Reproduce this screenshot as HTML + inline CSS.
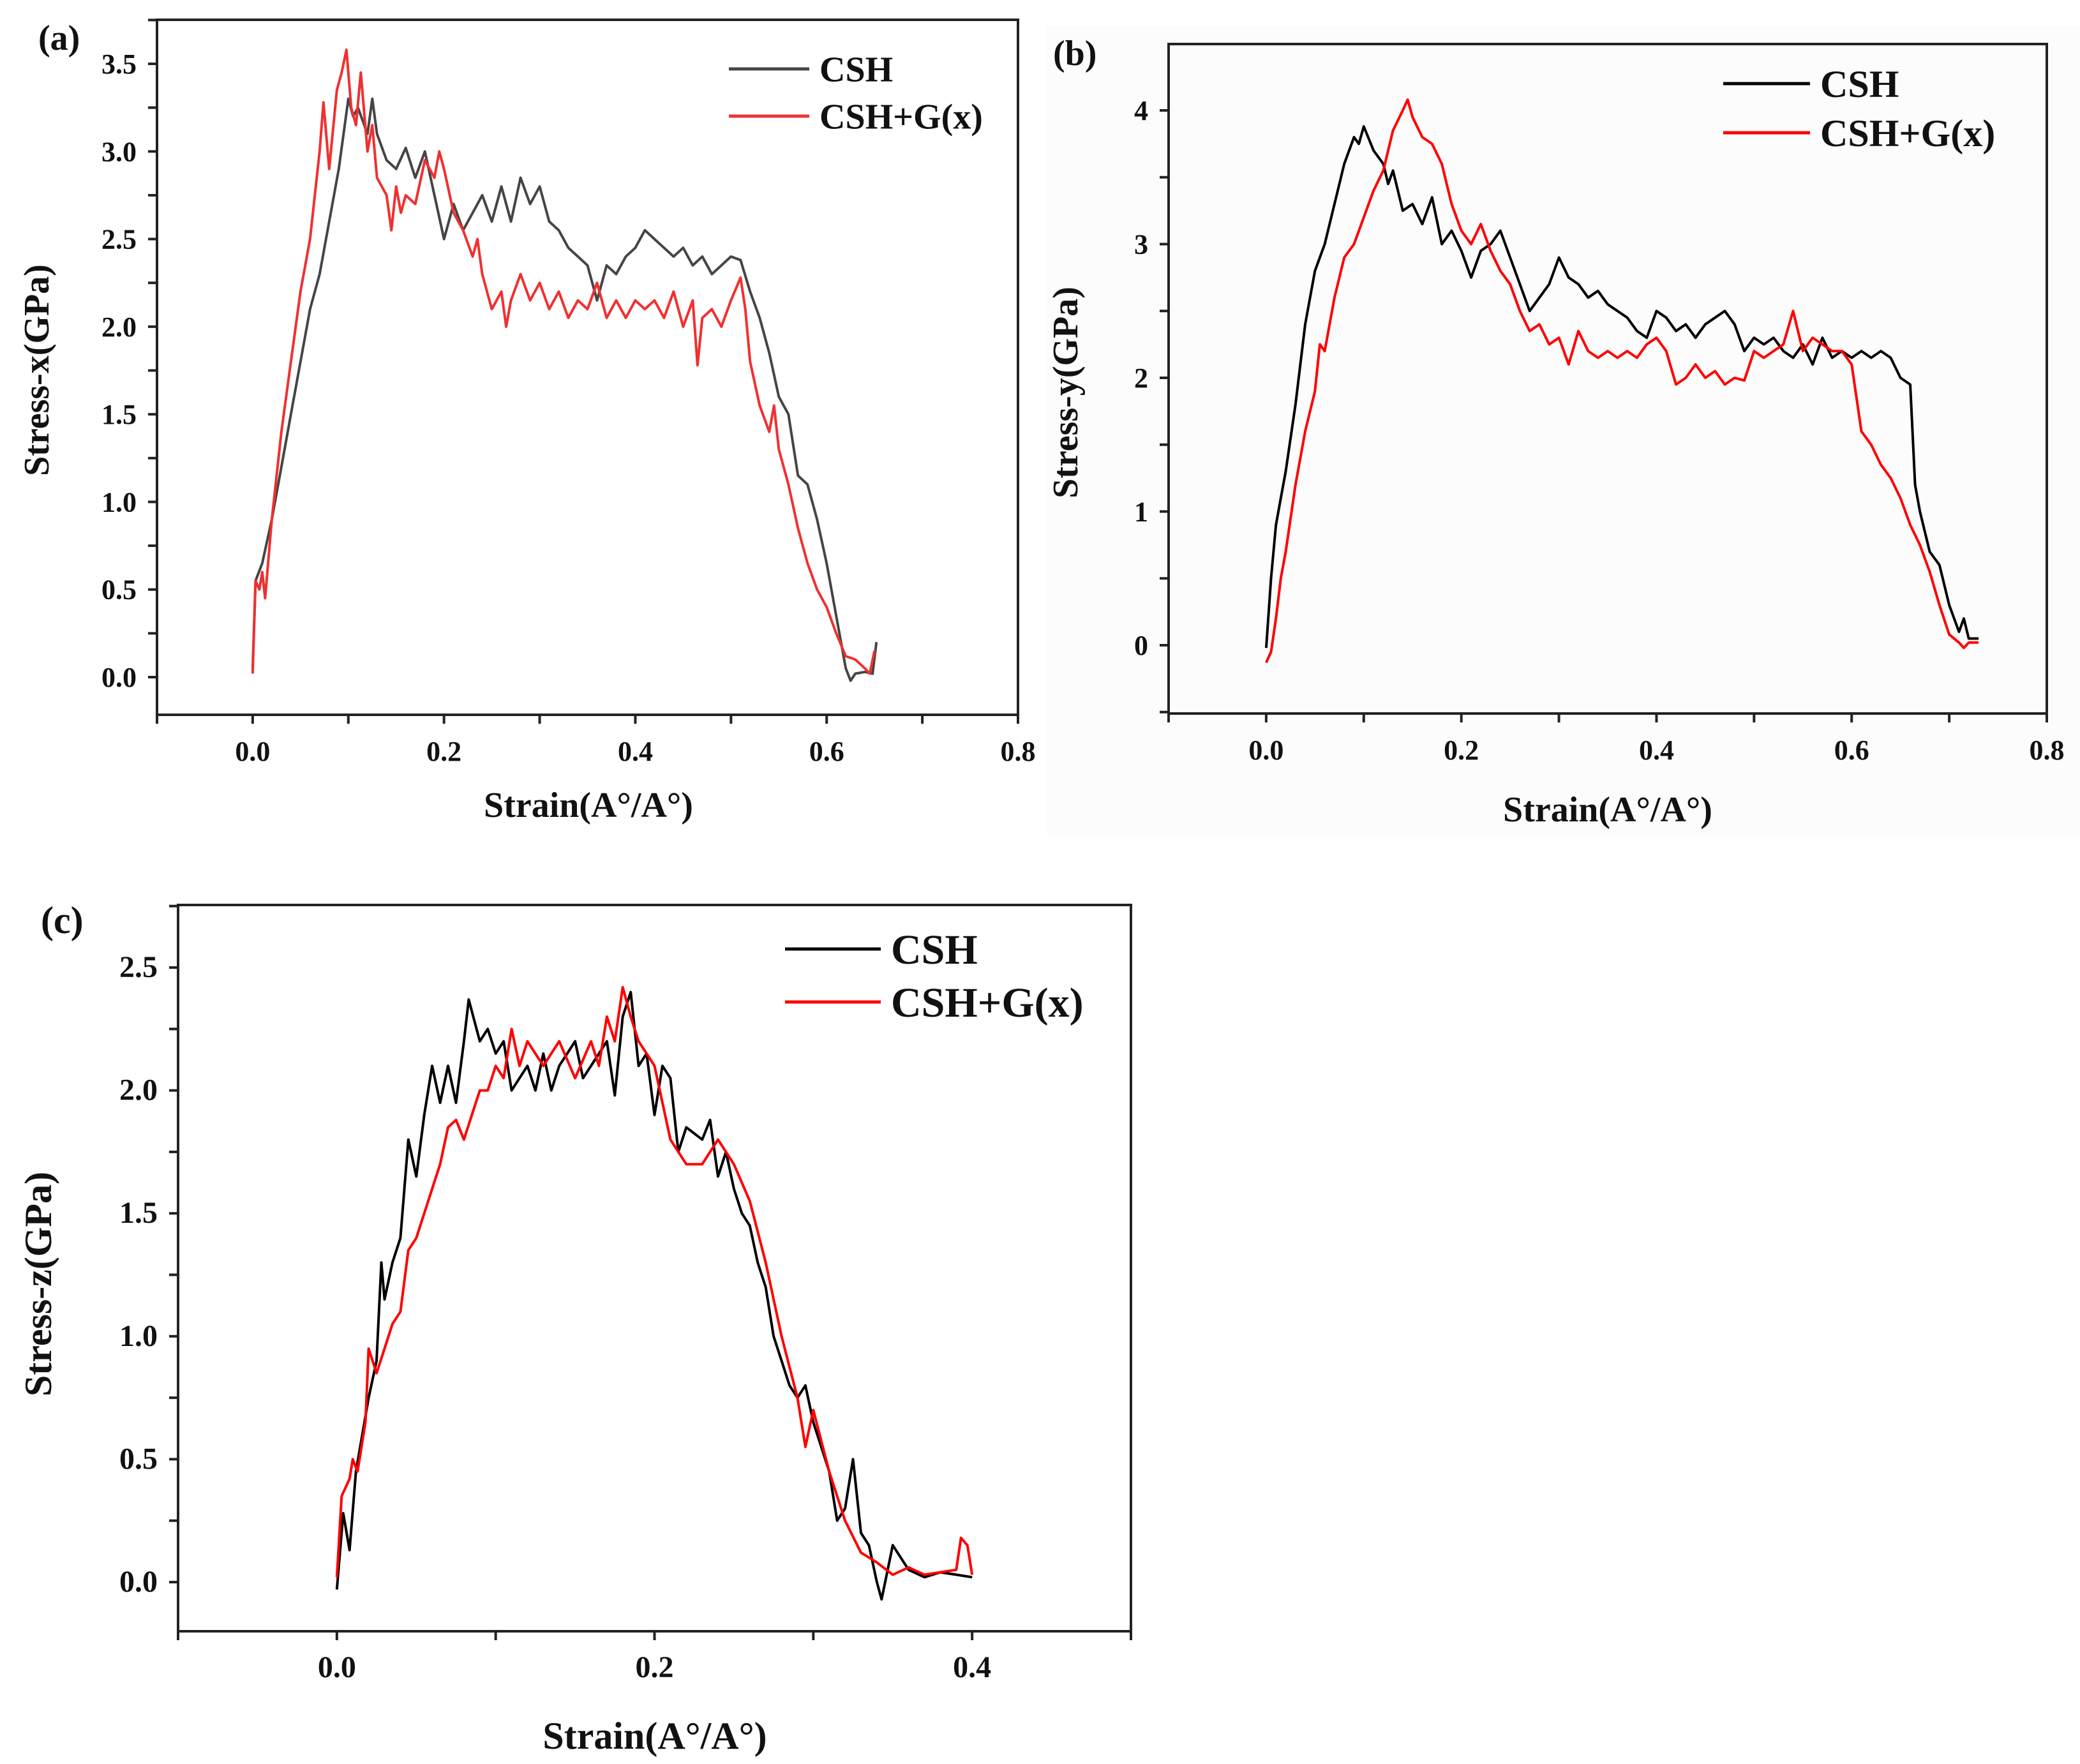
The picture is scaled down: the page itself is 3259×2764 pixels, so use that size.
<!DOCTYPE html>
<html><head><meta charset="utf-8">
<style>
html,body{margin:0;padding:0;background:#fff;}
svg{display:block;font-family:"Liberation Serif",serif;font-weight:bold;}
</style></head>
<body>
<svg id="fig" width="3259" height="2764" viewBox="0 0 3259 2764" xmlns="http://www.w3.org/2000/svg">
<rect x="0" y="0" width="3259" height="2764" fill="#fff"/>
<rect x="1640" y="40" width="1619" height="1270" fill="#fcfcfc"/>
</svg>
<script>
// ---------- Panel (a) data ----------
const aCshX=[0,0.003,0.01,0.02,0.03,0.04,0.05,0.06,0.07,0.08,0.09,0.1,0.105,0.11,0.12,0.125,0.13,0.14,0.15,0.16,0.17,0.18,0.19,0.2,0.21,0.22,0.23,0.24,0.25,0.26,0.27,0.28,0.29,0.3,0.31,0.32,0.33,0.34,0.35,0.36,0.37,0.38,0.39,0.4,0.41,0.42,0.43,0.44,0.45,0.46,0.47,0.48,0.49,0.5,0.51,0.52,0.53,0.54,0.55,0.56,0.57,0.58,0.59,0.6,0.61,0.62,0.625,0.63,0.64,0.648,0.652];
const aCshY=[0.05,0.55,0.65,0.9,1.2,1.5,1.8,2.1,2.3,2.6,2.9,3.3,3.2,3.25,3.1,3.3,3.1,2.95,2.9,3.02,2.85,3.0,2.75,2.5,2.7,2.55,2.65,2.75,2.6,2.8,2.6,2.85,2.7,2.8,2.6,2.55,2.45,2.4,2.35,2.15,2.35,2.3,2.4,2.45,2.55,2.5,2.45,2.4,2.45,2.35,2.4,2.3,2.35,2.4,2.38,2.2,2.05,1.85,1.6,1.5,1.15,1.1,0.9,0.65,0.35,0.05,-0.02,0.02,0.03,0.02,0.2];
const aGX=[0,0.003,0.007,0.01,0.013,0.02,0.03,0.04,0.05,0.06,0.07,0.074,0.08,0.088,0.093,0.098,0.103,0.108,0.113,0.12,0.125,0.13,0.14,0.145,0.15,0.155,0.16,0.17,0.18,0.19,0.195,0.2,0.21,0.22,0.23,0.235,0.24,0.25,0.26,0.265,0.27,0.28,0.29,0.3,0.31,0.32,0.33,0.34,0.35,0.36,0.37,0.38,0.39,0.4,0.41,0.42,0.43,0.44,0.45,0.46,0.465,0.47,0.48,0.49,0.5,0.51,0.515,0.52,0.53,0.54,0.545,0.55,0.56,0.57,0.58,0.59,0.6,0.61,0.62,0.63,0.64,0.645,0.65];
const aGY=[0.02,0.55,0.5,0.6,0.45,0.9,1.4,1.8,2.2,2.5,3.0,3.28,2.9,3.35,3.45,3.58,3.25,3.15,3.45,3.0,3.15,2.85,2.75,2.55,2.8,2.65,2.75,2.7,2.95,2.85,3.0,2.9,2.65,2.55,2.4,2.5,2.3,2.1,2.2,2.0,2.15,2.3,2.15,2.25,2.1,2.2,2.05,2.15,2.1,2.25,2.05,2.15,2.05,2.15,2.1,2.15,2.05,2.2,2.0,2.15,1.78,2.05,2.1,2.0,2.15,2.28,2.1,1.8,1.55,1.4,1.55,1.3,1.1,0.85,0.65,0.5,0.4,0.25,0.12,0.1,0.05,0.02,0.15];
const aXTicks=["0.0","0.2","0.4","0.6","0.8"];
const aYTicks=["0.0","0.5","1.0","1.5","2.0","2.5","3.0","3.5"];
// ---------- Panel (b) data ----------
const bCshX=[0,0.005,0.01,0.015,0.02,0.03,0.04,0.05,0.06,0.07,0.08,0.09,0.095,0.1,0.11,0.12,0.125,0.13,0.14,0.15,0.16,0.17,0.18,0.19,0.2,0.21,0.22,0.23,0.24,0.25,0.26,0.27,0.28,0.29,0.3,0.31,0.32,0.33,0.34,0.35,0.36,0.37,0.38,0.39,0.4,0.41,0.42,0.43,0.44,0.45,0.46,0.47,0.48,0.49,0.5,0.51,0.52,0.53,0.54,0.55,0.56,0.57,0.58,0.59,0.6,0.61,0.62,0.63,0.64,0.65,0.66,0.665,0.67,0.68,0.69,0.7,0.71,0.715,0.72,0.73];
const bCshY=[-0.02,0.5,0.9,1.1,1.3,1.8,2.4,2.8,3.0,3.3,3.6,3.8,3.75,3.88,3.7,3.6,3.45,3.55,3.25,3.3,3.15,3.35,3.0,3.1,2.95,2.75,2.95,3.0,3.1,2.9,2.7,2.5,2.6,2.7,2.9,2.75,2.7,2.6,2.65,2.55,2.5,2.45,2.35,2.3,2.5,2.45,2.35,2.4,2.3,2.4,2.45,2.5,2.4,2.2,2.3,2.25,2.3,2.2,2.15,2.25,2.1,2.3,2.15,2.2,2.15,2.2,2.15,2.2,2.15,2.0,1.95,1.2,1.0,0.7,0.6,0.3,0.1,0.2,0.05,0.05];
const bGX=[0,0.005,0.01,0.015,0.02,0.03,0.04,0.05,0.055,0.06,0.07,0.08,0.09,0.1,0.11,0.12,0.13,0.14,0.145,0.15,0.16,0.17,0.18,0.19,0.2,0.21,0.22,0.23,0.24,0.25,0.26,0.27,0.28,0.29,0.3,0.31,0.32,0.33,0.34,0.35,0.36,0.37,0.38,0.39,0.4,0.41,0.42,0.43,0.44,0.45,0.46,0.47,0.48,0.49,0.5,0.51,0.52,0.53,0.54,0.55,0.56,0.57,0.58,0.59,0.6,0.61,0.62,0.63,0.64,0.65,0.66,0.67,0.68,0.69,0.7,0.71,0.715,0.72,0.73];
const bGY=[-0.13,-0.05,0.2,0.5,0.7,1.2,1.6,1.9,2.25,2.2,2.6,2.9,3.0,3.2,3.4,3.55,3.85,4.0,4.08,3.95,3.8,3.75,3.6,3.3,3.1,3.0,3.15,2.95,2.8,2.7,2.5,2.35,2.4,2.25,2.3,2.1,2.35,2.2,2.15,2.2,2.15,2.2,2.15,2.25,2.3,2.2,1.95,2.0,2.1,2.0,2.05,1.95,2.0,1.98,2.2,2.15,2.2,2.25,2.5,2.2,2.3,2.25,2.2,2.2,2.1,1.6,1.5,1.35,1.25,1.1,0.9,0.75,0.55,0.3,0.08,0.02,-0.02,0.02,0.02];
const bXTicks=["0.0","0.2","0.4","0.6","0.8"];
const bYTicks=["0","1","2","3","4"];
// ---------- Panel (c) data ----------
const cCshX=[0,0.004,0.008,0.012,0.02,0.025,0.028,0.03,0.035,0.04,0.045,0.05,0.055,0.06,0.065,0.07,0.075,0.08,0.083,0.09,0.095,0.1,0.105,0.11,0.115,0.12,0.125,0.13,0.135,0.14,0.15,0.155,0.16,0.17,0.175,0.18,0.185,0.19,0.195,0.2,0.205,0.21,0.215,0.22,0.23,0.235,0.24,0.245,0.25,0.255,0.26,0.265,0.27,0.275,0.28,0.285,0.29,0.295,0.3,0.305,0.31,0.315,0.32,0.325,0.33,0.335,0.34,0.343,0.35,0.36,0.37,0.38,0.39,0.4];
const cCshY=[-0.03,0.28,0.13,0.45,0.75,0.9,1.3,1.15,1.3,1.4,1.8,1.65,1.9,2.1,1.95,2.1,1.95,2.2,2.37,2.2,2.25,2.15,2.2,2.0,2.05,2.1,2.0,2.15,2.0,2.1,2.2,2.05,2.1,2.2,1.98,2.3,2.4,2.1,2.15,1.9,2.1,2.05,1.75,1.85,1.8,1.88,1.65,1.75,1.6,1.5,1.45,1.3,1.2,1.0,0.9,0.8,0.75,0.8,0.65,0.55,0.45,0.25,0.3,0.5,0.2,0.15,0.0,-0.07,0.15,0.05,0.02,0.04,0.03,0.02];
const cGX=[0,0.003,0.008,0.01,0.013,0.018,0.02,0.025,0.03,0.035,0.04,0.045,0.05,0.055,0.06,0.065,0.07,0.075,0.08,0.085,0.09,0.095,0.1,0.105,0.11,0.115,0.12,0.13,0.14,0.15,0.16,0.165,0.17,0.175,0.18,0.185,0.19,0.195,0.2,0.21,0.22,0.23,0.24,0.25,0.26,0.27,0.28,0.29,0.295,0.3,0.31,0.32,0.33,0.34,0.35,0.36,0.37,0.38,0.39,0.393,0.397,0.4];
const cGY=[0.02,0.35,0.42,0.5,0.45,0.65,0.95,0.85,0.95,1.05,1.1,1.35,1.4,1.5,1.6,1.7,1.85,1.88,1.8,1.9,2.0,2.0,2.1,2.05,2.25,2.1,2.2,2.1,2.2,2.05,2.2,2.1,2.3,2.2,2.42,2.3,2.2,2.15,2.1,1.8,1.7,1.7,1.8,1.7,1.55,1.3,1.0,0.75,0.55,0.7,0.45,0.25,0.12,0.08,0.03,0.06,0.03,0.04,0.05,0.18,0.15,0.03];
const cXTicks=["0.0","0.2","0.4"];
const cYTicks=["0.0","0.5","1.0","1.5","2.0","2.5"];

const NS="http://www.w3.org/2000/svg";
const svg=document.getElementById('fig');
function mk(tag,attrs,parent){const e=document.createElementNS(NS,tag);for(const k in attrs)e.setAttribute(k,attrs[k]);(parent||svg).appendChild(e);return e;}

function panel(p){
  const g=mk('g',{});
  
  
  const sx=v=>p.L+(v-p.xmin)/(p.xmax-p.xmin)*(p.R-p.L);
  const sy=v=>p.y0+(v)*(p.y1-p.y0)/p.yv1;
  p.series.forEach(s=>{
    const d=s.x.map((v,i)=>(i?'L':'M')+sx(v).toFixed(1)+' '+sy(s.y[i]).toFixed(1)).join(' ');
    const path=mk('path',{d:d,fill:'none',stroke:s.color,'stroke-width':4,'stroke-linejoin':'round'},g);
    
    
  });
  const fr=mk('rect',{x:p.L,y:p.T,width:p.R-p.L,height:p.B-p.T,fill:'none',stroke:'#222','stroke-width':4},g);
  
  
  const xa=mk('g',{},g);
  
  
  for(let v=p.xmin;v<=p.xmax+1e-9;v+=0.1){
    const x=sx(v);mk('line',{x1:x,y1:p.B,x2:x,y2:p.B+14,stroke:'#222','stroke-width':4},xa);
  }
  p.xTicks.forEach(t=>{
    const tx=mk('text',{x:sx(parseFloat(t)),y:p.B+72,'font-size':p.fs,'text-anchor':'middle',fill:'#111'},xa);
    tx.textContent=t;
    
    
  });
  const ya=mk('g',{},g);
  
  
  const step=parseFloat(p.yTicks[1])-parseFloat(p.yTicks[0]);
  for(let v=p.yminT;v<=p.ymaxT+1e-9;v+=step/2){
    const y=sy(v);if(y<p.T||y>p.B)continue;
    mk('line',{x1:p.L-14,y1:y,x2:p.L,y2:y,stroke:'#222','stroke-width':4},ya);
  }
  p.yTicks.forEach(t=>{
    const tx=mk('text',{x:p.L-32,y:sy(parseFloat(t))+15,'font-size':p.fs,'text-anchor':'end',fill:'#111'},ya);
    tx.textContent=t;
    
    
  });
  const xt=mk('text',{x:p.xtX,y:p.xtY,'font-size':p.tfs,'text-anchor':'middle',fill:'#111'},g);
  xt.textContent='Strain(A°/A°)';
  
  
  const yt=mk('text',{x:0,y:0,'font-size':p.tfs,'text-anchor':'middle',fill:'#111',transform:`translate(${p.ytX},${p.ytY}) rotate(-90)`},g);
  yt.textContent=p.ytitle;
  
  
  const lb=mk('text',{x:p.labX,y:p.labY,'font-size':p.tfs,fill:'#111'},g);
  lb.textContent=p.label;
  
  
  const lg=mk('g',{},g);
  
  
  p.series.forEach((s,i)=>{
    const y=p.legY[i];
    mk('line',{x1:p.legX1,y1:y,x2:p.legX2,y2:y,stroke:s.color,'stroke-width':5},lg);
    const t=mk('text',{x:p.legX2+16,y:y+p.lfs*0.35,'font-size':p.lfs,fill:'#111'},lg);
    t.textContent=s.label;
    
    
  });
}

panel({id:'a',L:246,R:1595,T:31,B:1120,xmin:-0.1,xmax:0.8,y0:1061,y1:100,yv1:3.5,yminT:-0.25,ymaxT:3.75,
  xTicks:aXTicks,yTicks:aYTicks,fs:44,tfs:56,lfs:56,ytitle:'Stress-x(GPa)',label:'(a)',
  xtX:922,xtY:1280,ytX:76,ytY:580,labX:60,labY:78,legX1:1142,legX2:1268,legY:[108,182],
  series:[{name:'csh',label:'CSH',color:'#454545',x:aCshX,y:aCshY},{name:'csh-g',label:'CSH+G(x)',color:'#f03030',x:aGX,y:aGY}]});
panel({id:'b',L:1831,R:3207,T:69,B:1118,xmin:-0.1,xmax:0.8,y0:1011,y1:173,yv1:4,yminT:-0.5,ymaxT:4.5,
  xTicks:bXTicks,yTicks:bYTicks,fs:44,tfs:56,lfs:60,ytitle:'Stress-y(GPa)',label:'(b)',
  xtX:2519,xtY:1287,ytX:1688,ytY:615,labX:1650,labY:102,legX1:2700,legX2:2836,legY:[131,208],
  series:[{name:'csh',label:'CSH',color:'#000',x:bCshX,y:bCshY},{name:'csh-g',label:'CSH+G(x)',color:'#f00',x:bGX,y:bGY}]});
panel({id:'c',L:279,R:1772,T:1418,B:2556,xmin:-0.1,xmax:0.5,y0:2479,y1:1516,yv1:2.5,yminT:-0.25,ymaxT:2.75,
  xTicks:cXTicks,yTicks:cYTicks,fs:48,tfs:60,lfs:66,ytitle:'Stress-z(GPa)',label:'(c)',
  xtX:1026,xtY:2740,ytX:80,ytY:2012,labX:64,labY:1462,legX1:1230,legX2:1380,legY:[1487,1570],
  series:[{name:'csh',label:'CSH',color:'#000',x:cCshX,y:cCshY},{name:'csh-g',label:'CSH+G(x)',color:'#f00',x:cGX,y:cGY}]});
</script>
</body></html>
